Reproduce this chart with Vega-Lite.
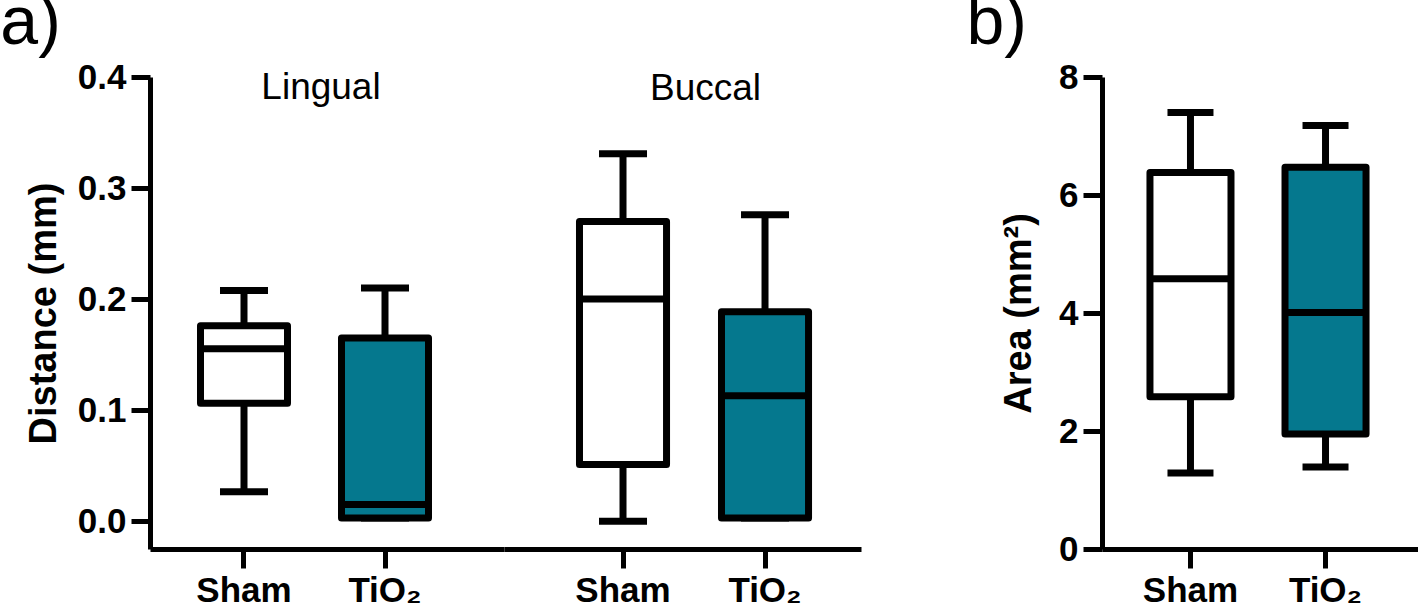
{
  "$schema": "https://vega.github.io/schema/vega-lite/v6.json",
  "padding": {"top": -10, "left": 0, "right": 0, "bottom": 0},
  "background": "white",
  "datasets": {
    "dist": [
      {"side": "Lingual", "group": "Sham", "min": 0.0266, "q1": 0.1063, "median": 0.1554, "q3": 0.176, "max": 0.2077},
      {"side": "Lingual", "group": "TiO₂", "min": 0.003, "q1": 0.003, "median": 0.015, "q3": 0.165, "max": 0.21},
      {"side": "Buccal", "group": "Sham", "min": 0.0, "q1": 0.051, "median": 0.2, "q3": 0.27, "max": 0.331},
      {"side": "Buccal", "group": "TiO₂", "min": 0.003, "q1": 0.003, "median": 0.113, "q3": 0.1887, "max": 0.276}
    ],
    "area": [
      {"group": "Sham", "min": 1.29, "q1": 2.58, "median": 4.58, "q3": 6.38, "max": 7.4},
      {"group": "TiO₂", "min": 1.39, "q1": 1.95, "median": 4.01, "q3": 6.47, "max": 7.18}
    ]
  },
  "config": {
    "view": {"stroke": null},
    "font": "Liberation Sans",
    "title": {"font": "Liberation Sans", "color": "black"},
    "axis": {
      "domainColor": "black", "domainWidth": 5,
      "tickColor": "black", "tickWidth": 5, "tickSize": 19,
      "labelFont": "Liberation Sans", "labelFontSize": 35, "labelFontWeight": "bold", "labelColor": "black", "labelPadding": 5,
      "titleFont": "Liberation Sans", "titleFontSize": 38, "titleFontWeight": "bold", "titleColor": "black", "titlePadding": 14,
      "grid": false
    }
  },
  "spacing": 105,
  "hconcat": [
    {
      "title": {"text": "a)", "anchor": "start", "fontSize": 68, "fontWeight": "normal", "dx": -25, "offset": 2},
      "spacing": 0,
      "hconcat": [
        {
          "width": 354, "height": 472,
          "title": {"text": "Lingual", "fontSize": 37, "fontWeight": "normal", "anchor": "middle", "frame": "group", "offset": -47, "dx": -6},
          "data": {"name": "dist"},
          "transform": [{"filter": "datum.side === 'Lingual'"}],
          "encoding": {
            "x": {"field": "group", "type": "nominal", "title": null,
                  "scale": {"type": "band", "domain": ["Sham", "TiO₂"], "paddingInner": 0.383, "paddingOuter": 0.4468, "align": 0.4008},
                  "axis": {"labelAngle": 0, "title": null}}
          },
          "layer": [
            {"mark": {"type": "rule", "strokeWidth": 7, "color": "black"},
             "encoding": {"y": {"field": "min", "type": "quantitative", "title": "Distance (mm)", "scale": {"domain": [-0.025, 0.4], "nice": false, "zero": false}, "axis": {"values": [0, 0.1, 0.2, 0.3, 0.4], "format": ".1f"}}, "y2": {"field": "max"}}},
            {"mark": {"type": "tick", "size": 48, "thickness": 7, "color": "black", "opacity": 1},
             "encoding": {"y": {"field": "max", "type": "quantitative", "title": "Distance (mm)"}}},
            {"mark": {"type": "tick", "size": 48, "thickness": 7, "color": "black", "opacity": 1},
             "encoding": {"y": {"field": "min", "type": "quantitative", "title": "Distance (mm)"}}},
            {"mark": {"type": "bar", "stroke": "black", "strokeWidth": 7, "strokeJoin": "round", "opacity": 1},
             "encoding": {"y": {"field": "q1", "type": "quantitative", "title": "Distance (mm)"}, "y2": {"field": "q3"},
                          "fill": {"field": "group", "type": "nominal", "scale": {"domain": ["Sham", "TiO₂"], "range": ["white", "#05788e"]}, "legend": null}}},
            {"mark": {"type": "tick", "size": 87, "thickness": 7, "color": "black", "opacity": 1},
             "encoding": {"y": {"field": "median", "type": "quantitative", "title": "Distance (mm)"}}}
          ]
        },
        {
          "width": 357, "height": 472,
          "title": {"text": "Buccal", "fontSize": 37, "fontWeight": "normal", "anchor": "middle", "frame": "group", "offset": -31, "dx": 23},
          "data": {"name": "dist"},
          "transform": [{"filter": "datum.side === 'Buccal'"}],
          "encoding": {
            "x": {"field": "group", "type": "nominal", "title": null,
                  "scale": {"type": "band", "domain": ["Sham", "TiO₂"], "paddingInner": 0.387, "paddingOuter": 0.4505, "align": 0.59},
                  "axis": {"labelAngle": 0, "title": null}}
          },
          "layer": [
            {"mark": {"type": "rule", "strokeWidth": 7, "color": "black"},
             "encoding": {"y": {"field": "min", "type": "quantitative", "scale": {"domain": [-0.025, 0.4], "nice": false, "zero": false}, "axis": null}, "y2": {"field": "max"}}},
            {"mark": {"type": "tick", "size": 48, "thickness": 7, "color": "black", "opacity": 1},
             "encoding": {"y": {"field": "max", "type": "quantitative", "axis": null}}},
            {"mark": {"type": "tick", "size": 48, "thickness": 7, "color": "black", "opacity": 1},
             "encoding": {"y": {"field": "min", "type": "quantitative", "axis": null}}},
            {"mark": {"type": "bar", "stroke": "black", "strokeWidth": 7, "strokeJoin": "round", "opacity": 1},
             "encoding": {"y": {"field": "q1", "type": "quantitative", "axis": null}, "y2": {"field": "q3"},
                          "fill": {"field": "group", "type": "nominal", "scale": {"domain": ["Sham", "TiO₂"], "range": ["white", "#05788e"]}, "legend": null}}},
            {"mark": {"type": "tick", "size": 87, "thickness": 7, "color": "black", "opacity": 1},
             "encoding": {"y": {"field": "median", "type": "quantitative", "axis": null}}}
          ]
        }
      ]
    },
    {
      "width": 316, "height": 472,
      "title": {"text": "b)", "anchor": "start", "fontSize": 68, "fontWeight": "normal", "dx": -34, "offset": 2},
      "data": {"name": "area"},
      "encoding": {
        "x": {"field": "group", "type": "nominal", "title": null,
              "scale": {"type": "band", "domain": ["Sham", "TiO₂"], "paddingInner": 0.4, "paddingOuter": 0.37, "align": 0.48},
              "axis": {"labelAngle": 0, "title": null}}
      },
      "layer": [
        {"mark": {"type": "rule", "strokeWidth": 7, "color": "black"},
         "encoding": {"y": {"field": "min", "type": "quantitative", "title": "Area (mm²)", "scale": {"domain": [0, 8], "nice": false}, "axis": {"values": [0, 2, 4, 6, 8], "format": "d", "titlePadding": 20}}, "y2": {"field": "max"}}},
        {"mark": {"type": "tick", "size": 46, "thickness": 7, "color": "black", "opacity": 1},
         "encoding": {"y": {"field": "max", "type": "quantitative", "title": "Area (mm²)"}}},
        {"mark": {"type": "tick", "size": 46, "thickness": 7, "color": "black", "opacity": 1},
         "encoding": {"y": {"field": "min", "type": "quantitative", "title": "Area (mm²)"}}},
        {"mark": {"type": "bar", "stroke": "black", "strokeWidth": 7, "strokeJoin": "round", "opacity": 1},
         "encoding": {"y": {"field": "q1", "type": "quantitative", "title": "Area (mm²)"}, "y2": {"field": "q3"},
                      "fill": {"field": "group", "type": "nominal", "scale": {"domain": ["Sham", "TiO₂"], "range": ["white", "#05788e"]}, "legend": null}}},
        {"mark": {"type": "tick", "size": 81, "thickness": 7, "color": "black", "opacity": 1},
         "encoding": {"y": {"field": "median", "type": "quantitative", "title": "Area (mm²)"}}}
      ]
    }
  ]
}
